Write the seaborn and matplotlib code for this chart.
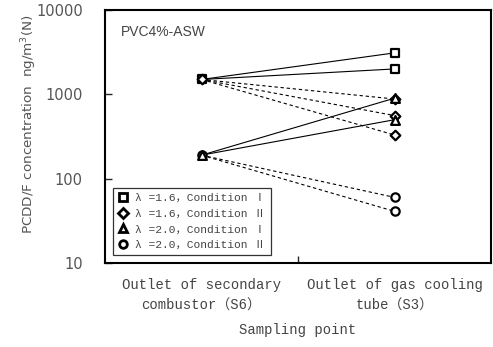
import numpy as np
import pandas as pd
import matplotlib
matplotlib.use("Agg")
import matplotlib.pyplot as plt
from matplotlib.lines import Line2D
import seaborn as sns

# ---- data ----
categories = ["Outlet of secondary\ncombustor\uff08S6\uff09", "Outlet of gas cooling\ntube\uff08S3\uff09"]
series_labels = ["\u03bb =1.6\uff0cCondition \u2160", "\u03bb =1.6\uff0cCondition \u2161",
                 "\u03bb =2.0\uff0cCondition \u2160", "\u03bb =2.0\uff0cCondition \u2161"]
s6_values = [1500, 1500, 190, 190]
s3_sq = [3100, 2000]
s3_di = [880, 560, 330]
s3_tr = [900, 500]
s3_ci = [60, 41]
s3_values = [s3_sq, s3_di, s3_tr, s3_ci]
markers = ["s", "D", "^", "o"]
dashed = [False, True, False, True]
yticks = [10, 100, 1000, 10000]

sns.set_theme(style="white")
plt.rcParams["mathtext.fontset"] = "custom"
plt.rcParams["mathtext.rm"] = "DejaVu Sans"
plt.rcParams["mathtext.it"] = "DejaVu Sans"

JP = ["Liberation Mono", "Noto Sans CJK JP", "DejaVu Sans"]
TXT = "#444444"

fig = plt.figure(figsize=(4.93, 3.47), dpi=100)
ax = fig.add_axes([105/493, 1-263/347, 386/493, 253/347])

rows = []
for si in range(4):
    for j, v in enumerate(s3_values[si]):
        seg = f"{si}-{j}"
        rows.append(dict(series=si, seg=seg, x=0, y=s6_values[si]))
        rows.append(dict(series=si, seg=seg, x=1, y=v))
df = pd.DataFrame(rows)

for seg, g in df.groupby("seg"):
    si = g["series"].iloc[0]
    sns.lineplot(data=g, x="x", y="y", ax=ax, color="black",
                 linewidth=0.8, linestyle=(0, (3, 2.5)) if dashed[si] else "-",
                 estimator=None, legend=False)

msize = {"s": 26, "D": 24, "^": 40, "o": 36}
order = [0, 3, 1, 2]
for si in order:
    g = df[df["series"] == si].drop_duplicates(subset=["x", "y"])
    sns.scatterplot(data=g, x="x", y="y", ax=ax, marker=markers[si], s=msize[markers[si]],
                    facecolor="white", edgecolor="black", linewidth=1.6, zorder=5, legend=False)

ax.set_yscale("log")
ax.set_ylim(10, 10000)
ax.set_xlim(-0.5, 1.5)
ax.set_yticks(yticks)
ax.set_yticklabels([str(t) for t in yticks], fontfamily="DejaVu Sans", fontsize=10.5, color="#555555")
ax.yaxis.set_minor_locator(matplotlib.ticker.NullLocator())
ax.set_xticks([0, 1])
ax.set_xticklabels(categories, fontfamily=JP, fontsize=10, color=TXT, linespacing=1.55)
ax.set_xticks([0.5], minor=True)
ax.tick_params(axis="x", which="major", length=0, pad=11)
ax.tick_params(axis="x", which="minor", direction="in", length=5, width=1, bottom=True)
ax.tick_params(axis="y", which="major", direction="in", length=5, width=1, left=True, pad=16)

for sp in ax.spines.values():
    sp.set_color("black")
    sp.set_linewidth(1.5)

ax.set_xlabel("Sampling point", fontfamily=JP, fontsize=10, color=TXT, labelpad=8)
ax.set_ylabel("PCDD/F concentration  ng/m$^{3}$(N)", fontfamily="DejaVu Sans", fontsize=9.7,
              color="#555555")
ax.yaxis.set_label_coords(-66/386, 0.55)

ax.text(0.04, 0.915, "PVC4%-ASW", transform=ax.transAxes, fontfamily="Liberation Sans",
        fontsize=10, color=TXT, va="center", ha="left")

handles = [Line2D([], [], linestyle="none", marker=m, markersize=5.5, markerfacecolor="white",
                  markeredgecolor="black", markeredgewidth=2.0) for m in markers]
leg = ax.legend(handles, series_labels, loc="lower left", bbox_to_anchor=(8/386, 8/253),
                prop={"family": JP, "size": 8.1},
                frameon=True, fancybox=False, edgecolor="black", handlelength=0.8,
                handletextpad=0.7, borderpad=0.45, labelspacing=0.5, borderaxespad=0)
leg.get_frame().set_linewidth(0.9)
for t in leg.get_texts():
    t.set_color(TXT)

fig.savefig("out.png", dpi=100)
